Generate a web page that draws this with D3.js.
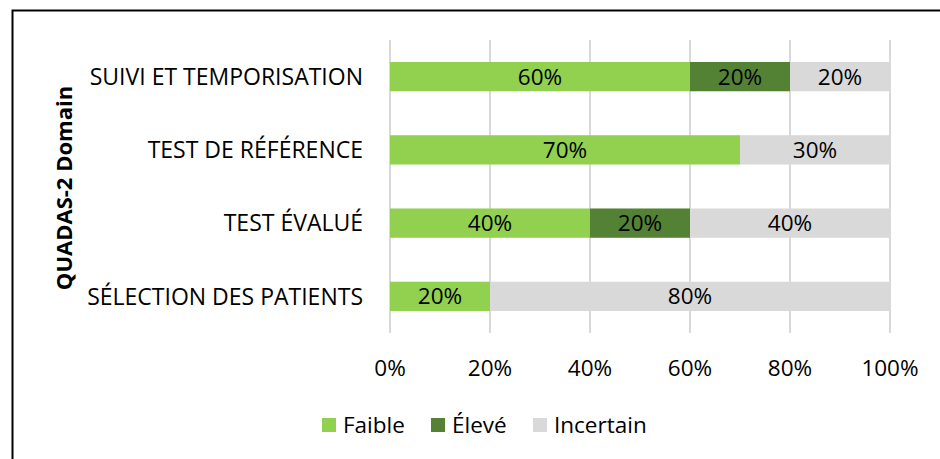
<!DOCTYPE html>
<html>
<head>
<meta charset="utf-8">
<script src="https://cdn.jsdelivr.net/npm/d3@7"></script>
<style>
  body { margin: 0; background: #fff; }
  text { font-family: "Open Sans", "Noto Sans", sans-serif; fill: #000; }
</style>
</head>
<body>
<div class="chart"></div>
<script>
    var svgWidth = 940;
    var svgHeight = 459;

    // data
    var domains = ["SUIVI ET TEMPORISATION", "TEST DE RÉFÉRENCE", "TEST ÉVALUÉ", "SÉLECTION DES PATIENTS"];
    var seriesNames = ["Faible", "Élevé", "Incertain"];
    var faible = [60, 70, 40, 20];
    var eleve = [20, 0, 20, 0];
    var incertain = [20, 30, 40, 80];
    var xTicks = [0, 20, 40, 60, 80, 100];
    var colors = ["#92D050", "#548235", "#D9D9D9"];

    var margin = { top: 40, right: 50, bottom: 126, left: 390 };
    var width = svgWidth - margin.left - margin.right;
    var height = svgHeight - margin.top - margin.bottom;

    var svg = d3.select(".chart")
        .append("svg")
        .attr("width", svgWidth)
        .attr("height", svgHeight);

    // outer frame
    svg.append("rect")
        .attr("x", 12.5).attr("y", 10.5)
        .attr("width", 940).attr("height", 460)
        .attr("fill", "none")
        .attr("stroke", "#000")
        .attr("stroke-width", 2);

    var chartGroup = svg.append("g")
        .attr("transform", `translate(${margin.left}, ${margin.top})`);

    var table = domains.map(function(d, i) {
        return { domain: d, "Faible": faible[i], "Élevé": eleve[i], "Incertain": incertain[i] };
    });
    var stacked = d3.stack().keys(seriesNames)(table);

    var xScale = d3.scaleLinear().domain([0, 100]).range([0, width]);
    var yScale = d3.scaleBand().domain(domains).range([0, height]).paddingInner(0.6).paddingOuter(0.3);

    // gridlines
    chartGroup.selectAll(".grid")
        .data(xTicks)
        .enter()
        .append("line")
        .attr("x1", d => xScale(d)).attr("x2", d => xScale(d))
        .attr("y1", 0).attr("y2", height)
        .attr("stroke", "#d9d9d9")
        .attr("stroke-width", 2);

    var layers = chartGroup.selectAll(".layer")
        .data(stacked)
        .enter()
        .append("g")
        .attr("fill", (d, i) => colors[i]);

    layers.selectAll("rect")
        .data(d => d)
        .enter()
        .append("rect")
        .attr("x", d => xScale(d[0]))
        .attr("y", d => yScale(d.data.domain))
        .attr("width", d => xScale(d[1]) - xScale(d[0]))
        .attr("height", yScale.bandwidth());

    layers.selectAll("text")
        .data(d => d.filter(s => s[1] - s[0] > 0))
        .enter()
        .append("text")
        .attr("x", d => (xScale(d[0]) + xScale(d[1])) / 2)
        .attr("y", d => yScale(d.data.domain) + yScale.bandwidth() / 2)
        .attr("dy", "0.36em")
        .attr("text-anchor", "middle")
        .style("font-size", "22.5px")
        .text(d => (d[1] - d[0]) + "%");

    // x tick labels
    chartGroup.selectAll(".xlab")
        .data(xTicks)
        .enter()
        .append("text")
        .attr("x", d => xScale(d))
        .attr("y", height + 43)
        .attr("text-anchor", "middle")
        .style("font-size", "22.5px")
        .text(d => d + "%");

    // category labels
    chartGroup.selectAll(".ylab")
        .data(domains)
        .enter()
        .append("text")
        .attr("x", -27)
        .attr("y", d => yScale(d) + yScale.bandwidth() / 2)
        .attr("dy", "0.36em")
        .attr("text-anchor", "end")
        .style("font-size", "23px")
        .text(d => d);

    // axis title
    svg.append("text")
        .attr("transform", "translate(72, 188) rotate(-90)")
        .attr("text-anchor", "middle")
        .style("font-size", "22px")
        .style("font-weight", "bold")
        .text("QUADAS-2 Domain");

    // legend
    var legendX = [322, 431, 533];
    var legend = svg.selectAll(".legend")
        .data(seriesNames)
        .enter()
        .append("g")
        .attr("transform", (d, i) => `translate(${legendX[i]}, 418)`);
    legend.append("rect")
        .attr("width", 14).attr("height", 14)
        .attr("fill", (d, i) => colors[i]);
    legend.append("text")
        .attr("x", 21).attr("y", 7)
        .attr("dy", "0.36em")
        .style("font-size", "22.5px")
        .text(d => d);
</script>
</body>
</html>
